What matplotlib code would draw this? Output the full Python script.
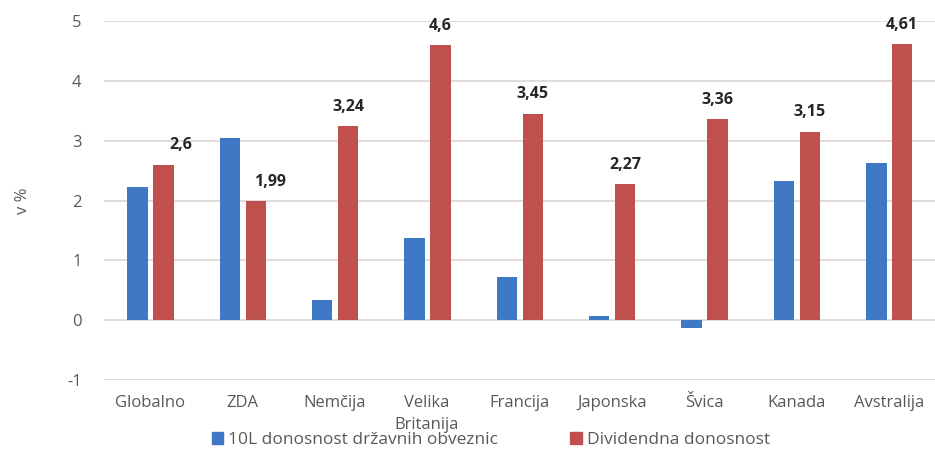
import matplotlib.pyplot as plt
import numpy as np
from matplotlib.patches import Patch

CATEGORIES = ["Globalno", "ZDA", "Nemčija", "Velika\nBritanija", "Francija",
              "Japonska", "Švica", "Kanada", "Avstralija"]
BOND_YIELD = [2.22, 3.05, 0.34, 1.38, 0.72, 0.08, -0.13, 2.33, 2.62]
DIVIDEND_YIELD = [2.60, 1.99, 3.24, 4.60, 3.45, 2.27, 3.36, 3.15, 4.61]
DIVIDEND_LABELS = ["2,6", "1,99", "3,24", "4,6", "3,45", "2,27", "3,36", "3,15", "4,61"]
SERIES_NAMES = ["10L donosnost državnih obveznic", "Dividendna donosnost"]

BLUE = "#3f78c4"
RED = "#c0504d"
GRID = "#ddd6d4"
TICK_INK = "#595959"
LABEL_INK = "#262626"

plt.rcParams["font.family"] = ["Open Sans", "DejaVu Sans"]
plt.rcParams["axes.unicode_minus"] = False

fig = plt.figure(figsize=(9.35, 4.58), dpi=100)
ax = fig.add_axes([0.111, 0.170, 0.889, 0.784])

x = np.arange(len(CATEGORIES))
width = 0.22
ax.bar(x - 0.135, BOND_YIELD, width, color=BLUE, zorder=3)
ax.bar(x + 0.145, DIVIDEND_YIELD, width, color=RED, zorder=3)

# the first two labels sit a little to the right of their bars
label_dx = [17, 14, 0, 0, 0, 0, 0, 0, 0]
for xi, val, txt, dx in zip(x, DIVIDEND_YIELD, DIVIDEND_LABELS, label_dx):
    ax.annotate(txt, (xi + 0.145, val), xytext=(dx * 0.72, 14),
                textcoords="offset points", ha="center", va="center",
                fontsize=11.5, fontweight="bold", color=LABEL_INK,
                annotation_clip=False)

ax.set_xlim(-0.5, len(CATEGORIES) - 0.5)
ax.set_ylim(-1, 5)
ax.set_yticks(range(-1, 6))
ax.yaxis.grid(True, color=GRID, linewidth=1.2, zorder=0)
ax.set_axisbelow(True)
for s in ax.spines.values():
    s.set_visible(False)
ax.tick_params(axis="both", length=0, colors=TICK_INK, labelsize=12)
ax.tick_params(axis="y", pad=16)
ax.tick_params(axis="x", pad=11)
ax.set_xticks(x)
ax.set_xticklabels(CATEGORIES, linespacing=1.45)
ax.set_ylabel("v %", color=TICK_INK, fontsize=12, labelpad=26)

handles = [Patch(color=BLUE), Patch(color=RED)]
fig.legend(handles, SERIES_NAMES, loc="lower center", ncol=2,
           bbox_to_anchor=(0.525, -0.012), frameon=False, fontsize=12.5,
           labelcolor=TICK_INK, handlelength=0.65, handleheight=0.65,
           handletextpad=0.3, columnspacing=4.15)

fig.savefig("out.png", dpi=100, facecolor="white")
